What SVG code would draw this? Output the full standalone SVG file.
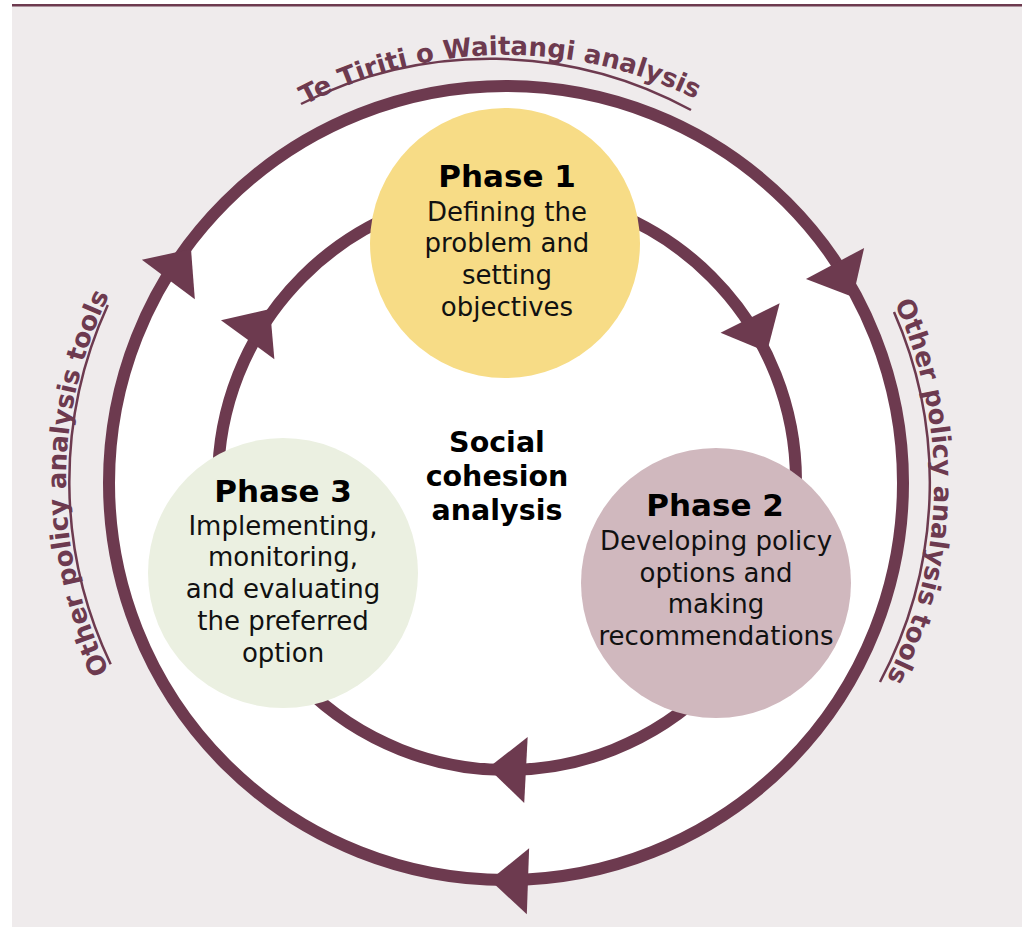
<svg xmlns="http://www.w3.org/2000/svg" xmlns:xlink="http://www.w3.org/1999/xlink" width="1022" height="927" viewBox="0 0 1022 927">
  <style>
    .ring { fill: none; stroke: #6D3A4F; stroke-width: 12; }
    .uline { fill: none; stroke: #6D3A4F; stroke-width: 2.5; }
    .arrow { fill: #6D3A4F; }
    .head { font-family: "DejaVu Sans", Verdana, sans-serif; font-weight: bold; font-size: 31px; fill: #000; text-anchor: middle; }
    .body { font-family: "DejaVu Sans", Verdana, sans-serif; font-size: 26px; fill: #111; text-anchor: middle; }
    .center { font-family: "DejaVu Sans", Verdana, sans-serif; font-weight: bold; font-size: 28.5px; fill: #000; text-anchor: middle; }
    .arc { font-family: "DejaVu Sans", Verdana, sans-serif; font-weight: bold; font-size: 26px; fill: #6D3A4F; }
  </style>
  <defs>
    <polygon id="ah" points="0,0 -38,-33 -38,33"/>
    <path id="pTop" d="M135.3,269 A428,428 0 0,1 876.7,269"/>
    <path id="pLeft" d="M292,853.7 A428,428 0 0,1 292,112.3"/>
    <path id="pRight" d="M720,112.3 A428,428 0 0,1 720,853.7"/>
  </defs>

  <rect x="12" y="4" width="1010" height="923" fill="#EFEBEC"/>
  <rect x="12" y="4" width="1010" height="2.5" fill="#6D3A4F"/>

  <g id="outer-cycle">
    <circle cx="506" cy="483" r="397" fill="#FFFFFF" stroke="#6D3A4F" stroke-width="12"/>
  </g>

  <g id="labels">
    <text class="arc"><textPath xlink:href="#pTop" startOffset="49.3%" text-anchor="middle">Te Tiriti o Waitangi analysis</textPath></text>
    <path class="uline" d="M301,104 A419,419 0 0,1 691,110"/>
    <g transform="translate(-12,0)">
      <text class="arc"><textPath xlink:href="#pLeft" startOffset="50%" text-anchor="middle">Other policy analysis tools</textPath></text>
      <path class="uline" d="M122.7,664.2 A424,424 0 0,1 119.8,305"/>
    </g>
    <text class="arc"><textPath xlink:href="#pRight" startOffset="51%" text-anchor="middle">Other policy analysis tools</textPath></text>
    <path class="uline" d="M894,312 A424,424 0 0,1 880,682"/>
  </g>

  <g id="connectors">
    <circle class="ring" cx="507" cy="481" r="289"/>
    <use href="#ah" class="arrow" transform="translate(191,249) rotate(-53.4)"/>
    <use href="#ah" class="arrow" transform="translate(853,297) rotate(61.8)"/>
    <use href="#ah" class="arrow" transform="translate(490,880) rotate(182)"/>
    <use href="#ah" class="arrow" transform="translate(270,309) rotate(-54)"/>
    <use href="#ah" class="arrow" transform="translate(767,352) rotate(63.6)"/>
    <use href="#ah" class="arrow" transform="translate(488,768) rotate(183)"/>
  </g>

  <g id="phase1">
    <circle cx="505" cy="243" r="135" fill="#F7DC86"/>
    <text class="head" x="507" y="187">Phase 1</text>
    <text class="body" x="507" y="221">Defining the</text>
    <text class="body" x="507" y="252">problem and</text>
    <text class="body" x="507" y="284">setting</text>
    <text class="body" x="507" y="316">objectives</text>
  </g>

  <g id="phase2">
    <circle cx="716" cy="583" r="135" fill="#D0B8BE"/>
    <text class="head" x="715" y="516">Phase 2</text>
    <text class="body" x="716" y="550">Developing policy</text>
    <text class="body" x="716" y="582">options and</text>
    <text class="body" x="716" y="613">making</text>
    <text class="body" x="716" y="645">recommendations</text>
  </g>

  <g id="phase3">
    <circle cx="283" cy="573" r="135" fill="#EBF0E1"/>
    <text class="head" x="283" y="502">Phase 3</text>
    <text class="body" x="283" y="535">Implementing,</text>
    <text class="body" x="283" y="566">monitoring,</text>
    <text class="body" x="283" y="598">and evaluating</text>
    <text class="body" x="283" y="630">the preferred</text>
    <text class="body" x="283" y="662">option</text>
  </g>

  <g id="social-cohesion">
    <text class="center" x="497" y="452">Social</text>
    <text class="center" x="497" y="486">cohesion</text>
    <text class="center" x="497" y="520">analysis</text>
  </g>
</svg>
